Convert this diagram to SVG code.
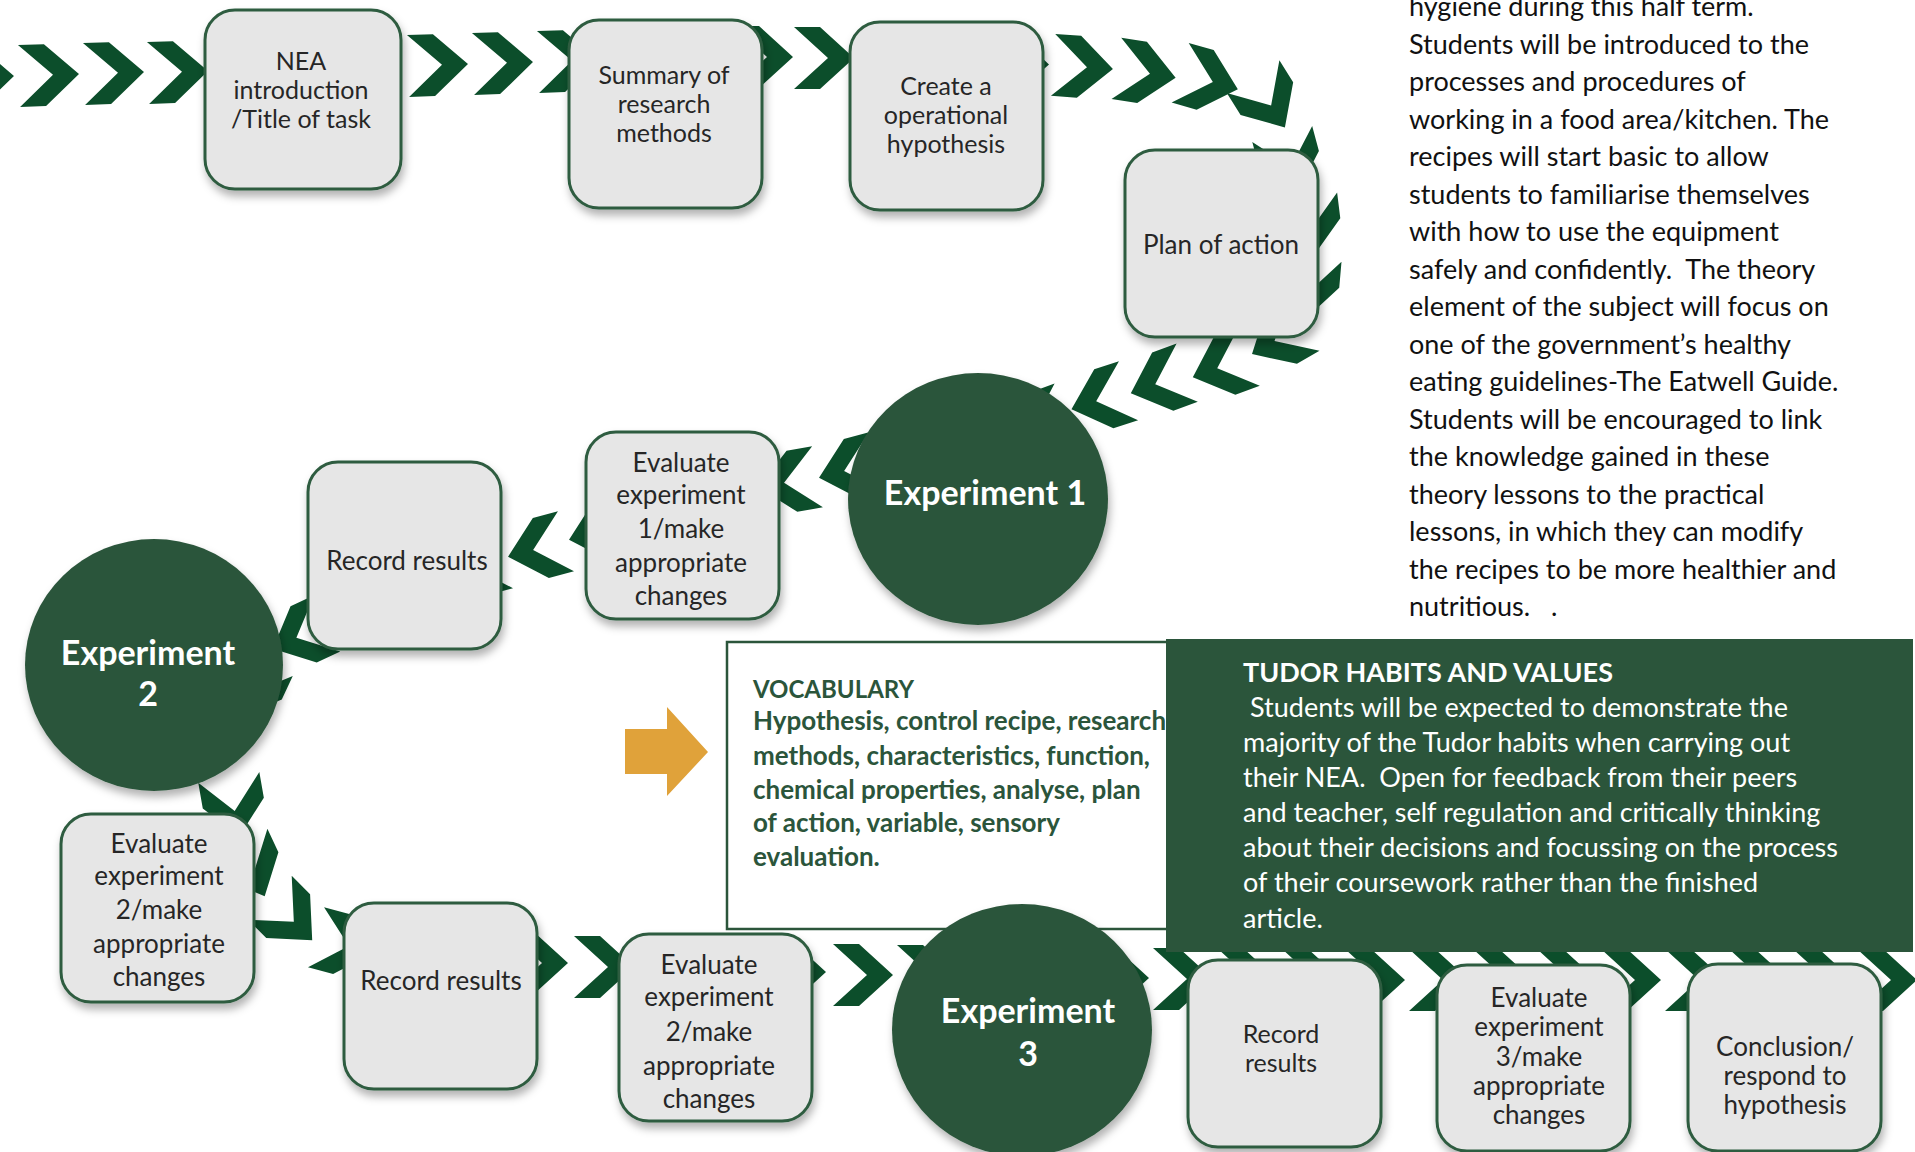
<svg xmlns="http://www.w3.org/2000/svg" width="1915" height="1152" viewBox="0 0 1915 1152">
<defs>
<style>
.box{fill:#e6e6e6;stroke:#2d5c3f;stroke-width:3;filter:url(#sh)}
.circ{fill:#2b553b;filter:url(#sh)}
.bt{font-family:Lato,"Liberation Sans",sans-serif;font-size:26px;fill:#262626;text-anchor:middle;font-weight:400}
.bs{font-size:25px}
.ct{font-family:Lato,"Liberation Sans",sans-serif;font-size:34px;font-weight:700;fill:#ffffff;text-anchor:middle}
.para{font-family:Lato,"Liberation Sans",sans-serif;font-size:27px;fill:#111111}
.voc{font-family:Lato,"Liberation Sans",sans-serif;font-size:26px;font-weight:700;fill:#2b553b}
.tud{font-family:Lato,"Liberation Sans",sans-serif;font-size:27px;fill:#ffffff}
</style>
<filter id="sh" x="-20%" y="-20%" width="140%" height="150%">
<feDropShadow dx="2" dy="6" stdDeviation="4" flood-color="#000000" flood-opacity="0.3"/>
</filter>
<polygon id="cv" points="-30,-31 -4,-31 30,0 -4,31 -30,31 4,0"/>
</defs>
<rect width="1915" height="1152" fill="#ffffff"/>

<g id="connectors" fill="#0c4e2b">
<use href="#cv" transform="translate(-16,77) rotate(-2)"/>
<use href="#cv" transform="translate(49,75) rotate(-2)"/>
<use href="#cv" transform="translate(114,73) rotate(-2)"/>
<use href="#cv" transform="translate(178,72) rotate(-2)"/>
<use href="#cv" transform="translate(243,70) rotate(-2)"/>
<use href="#cv" transform="translate(308,68) rotate(-2)"/>
<use href="#cv" transform="translate(369,66) rotate(-2)"/>
<use href="#cv" transform="translate(438,65) rotate(-2)"/>
<use href="#cv" transform="translate(503,63) rotate(-2)"/>
<use href="#cv" transform="translate(568,61) rotate(-2)"/>
<use href="#cv" transform="translate(633,59) rotate(-1)"/>
<use href="#cv" transform="translate(698,58) rotate(0)"/>
<use href="#cv" transform="translate(763,57) rotate(0)"/>
<use href="#cv" transform="translate(824,58) rotate(0)"/>
<use href="#cv" transform="translate(889,60) rotate(0)"/>
<use href="#cv" transform="translate(954,62) rotate(0)"/>
<use href="#cv" transform="translate(1019,64) rotate(1)"/>
<use href="#cv" transform="translate(1083,67) rotate(4)"/>
<use href="#cv" transform="translate(1146,73) rotate(9)"/>
<use href="#cv" transform="translate(1209,81) rotate(16)"/>
<use href="#cv" transform="translate(1269,102) rotate(58)"/>
<use href="#cv" transform="translate(1290,163) rotate(75)"/>
<use href="#cv" transform="translate(1310,226) rotate(83)"/>
<use href="#cv" transform="translate(1308,289) rotate(95)"/>
<use href="#cv" transform="translate(1278,339) rotate(150)"/>
<use href="#cv" transform="translate(1221,367) rotate(160)"/>
<use href="#cv" transform="translate(1159,383) rotate(160)"/>
<use href="#cv" transform="translate(1100,400) rotate(162)"/>
<use href="#cv" transform="translate(1037,423) rotate(160)"/>
<use href="#cv" transform="translate(976,445) rotate(160)"/>
<use href="#cv" transform="translate(912,460) rotate(165)"/>
<use href="#cv" transform="translate(848,470) rotate(165)"/>
<use href="#cv" transform="translate(788,482) rotate(170)"/>
<use href="#cv" transform="translate(722,500) rotate(168)"/>
<use href="#cv" transform="translate(660,516) rotate(166)"/>
<use href="#cv" transform="translate(598,532) rotate(165)"/>
<use href="#cv" transform="translate(537,549) rotate(165)"/>
<use href="#cv" transform="translate(476,566) rotate(165)"/>
<use href="#cv" transform="translate(415,583) rotate(163)"/>
<use href="#cv" transform="translate(354,600) rotate(160)"/>
<use href="#cv" transform="translate(300,636) rotate(155)"/>
<use href="#cv" transform="translate(252,690) rotate(115)"/>
<use href="#cv" transform="translate(225,735) rotate(88)"/>
<use href="#cv" transform="translate(234,807) rotate(80)"/>
<use href="#cv" transform="translate(252,869) rotate(65)"/>
<use href="#cv" transform="translate(291,919) rotate(45)"/>
<use href="#cv" transform="translate(345,945) rotate(15)"/>
<use href="#cv" transform="translate(409,955) rotate(5)"/>
<use href="#cv" transform="translate(474,961) rotate(2)"/>
<use href="#cv" transform="translate(538,963)"/>
<use href="#cv" transform="translate(604,967)"/>
<use href="#cv" transform="translate(668,969)"/>
<use href="#cv" transform="translate(732,970)"/>
<use href="#cv" transform="translate(796,972)"/>
<use href="#cv" transform="translate(863,975)"/>
<use href="#cv" transform="translate(927,976)"/>
<use href="#cv" transform="translate(991,977)"/>
<use href="#cv" transform="translate(1055,978)"/>
<use href="#cv" transform="translate(1119,978)"/>
<use href="#cv" transform="translate(1183,979)"/>
<use href="#cv" transform="translate(1247,979)"/>
<use href="#cv" transform="translate(1311,979)"/>
<use href="#cv" transform="translate(1375,980)"/>
<use href="#cv" transform="translate(1439,980)"/>
<use href="#cv" transform="translate(1503,980)"/>
<use href="#cv" transform="translate(1567,980)"/>
<use href="#cv" transform="translate(1631,980)"/>
<use href="#cv" transform="translate(1695,980)"/>
<use href="#cv" transform="translate(1759,980)"/>
<use href="#cv" transform="translate(1823,980)"/>
<use href="#cv" transform="translate(1887,980)"/>
</g>

<g id="n-nea">
<rect class="box" x="205" y="10" width="196" height="179" rx="30"/>
<text class="bt bs"><tspan x="301" y="70">NEA</tspan><tspan x="301" y="99">introduction</tspan><tspan x="301" y="128">/Title of task</tspan></text>
</g>
<g id="n-summary">
<rect class="box" x="569" y="20" width="193" height="188" rx="30"/>
<text class="bt bs"><tspan x="664" y="84">Summary of</tspan><tspan x="664" y="113">research</tspan><tspan x="664" y="142">methods</tspan></text>
</g>
<g id="n-create">
<rect class="box" x="850" y="22" width="193" height="188" rx="30"/>
<text class="bt bs"><tspan x="946" y="95">Create a</tspan><tspan x="946" y="124">operational</tspan><tspan x="946" y="153">hypothesis</tspan></text>
</g>
<g id="n-plan">
<rect class="box" x="1125" y="150" width="193" height="187" rx="30"/>
<text class="bt" x="1221" y="254">Plan of action</text>
</g>
<g id="n-exp1">
<ellipse class="circ" cx="978" cy="499" rx="130" ry="126"/>
<text class="ct" x="985" y="505">Experiment 1</text>
</g>
<g id="n-eval1">
<rect class="box" x="586" y="432" width="193" height="187" rx="30"/>
<text class="bt"><tspan x="681" y="472">Evaluate</tspan><tspan x="681" y="504">experiment</tspan><tspan x="681" y="538">1/make</tspan><tspan x="681" y="572">appropriate</tspan><tspan x="681" y="605">changes</tspan></text>
</g>
<g id="n-record1">
<rect class="box" x="308" y="462" width="193" height="187" rx="30"/>
<text class="bt" x="407" y="570">Record results</text>
</g>
<g id="n-exp2">
<ellipse class="circ" cx="154" cy="665" rx="129" ry="126"/>
<text class="ct"><tspan x="148" y="665">Experiment</tspan><tspan x="148" y="706">2</tspan></text>
</g>
<g id="n-eval2a">
<rect class="box" x="61" y="814" width="193" height="188" rx="30"/>
<text class="bt"><tspan x="159" y="853">Evaluate</tspan><tspan x="159" y="885">experiment</tspan><tspan x="159" y="919">2/make</tspan><tspan x="159" y="953">appropriate</tspan><tspan x="159" y="986">changes</tspan></text>
</g>
<g id="n-record2">
<rect class="box" x="344" y="903" width="193" height="186" rx="30"/>
<text class="bt" x="441" y="990">Record results</text>
</g>
<g id="n-eval2b">
<rect class="box" x="619" y="934" width="193" height="187" rx="30"/>
<text class="bt"><tspan x="709" y="974">Evaluate</tspan><tspan x="709" y="1006">experiment</tspan><tspan x="709" y="1041">2/make</tspan><tspan x="709" y="1075">appropriate</tspan><tspan x="709" y="1108">changes</tspan></text>
</g>

<g id="n-vocab">
<rect x="727" y="642" width="460" height="287" fill="#ffffff" stroke="#2b553b" stroke-width="2.5"/>
<text class="voc"><tspan x="753" y="698" font-size="24">VOCABULARY</tspan><tspan x="753" y="730">Hypothesis, control recipe, research</tspan><tspan x="753" y="765">methods, characteristics, function,</tspan><tspan x="753" y="799">chemical properties, analyse, plan</tspan><tspan x="753" y="832">of action, variable, sensory</tspan><tspan x="753" y="866">evaluation.</tspan></text>
</g>

<g id="n-exp3">
<ellipse class="circ" cx="1022" cy="1030" rx="130" ry="126"/>
<text class="ct"><tspan x="1028" y="1023">Experiment</tspan><tspan x="1028" y="1066">3</tspan></text>
</g>
<g id="n-record3">
<rect class="box" x="1188" y="960" width="193" height="187" rx="30"/>
<text class="bt bs"><tspan x="1281" y="1043">Record</tspan><tspan x="1281" y="1072">results</tspan></text>
</g>
<g id="n-eval3">
<rect class="box" x="1437" y="965" width="193" height="186" rx="30"/>
<text class="bt" font-size="24"><tspan x="1539" y="1007">Evaluate</tspan><tspan x="1539" y="1036">experiment</tspan><tspan x="1539" y="1066">3/make</tspan><tspan x="1539" y="1095">appropriate</tspan><tspan x="1539" y="1124">changes</tspan></text>
</g>
<g id="n-conclusion">
<rect class="box" x="1688" y="964" width="193" height="187" rx="30"/>
<text class="bt" font-size="24"><tspan x="1785" y="1056">Conclusion/</tspan><tspan x="1785" y="1085">respond to</tspan><tspan x="1785" y="1114">hypothesis</tspan></text>
</g>

<g id="n-tudor">
<rect x="1166" y="639" width="747" height="313" fill="#2b553b"/>
<text class="tud" x="1243" y="682" font-size="25" font-weight="700">TUDOR HABITS AND VALUES</text>
<text class="tud"><tspan x="1250" y="717">Students will be expected to demonstrate the</tspan><tspan x="1243" y="752">majority of the Tudor habits when carrying out</tspan><tspan x="1243" y="787">their NEA.&#160; Open for feedback from their peers</tspan><tspan x="1243" y="822">and teacher, self regulation and critically thinking</tspan><tspan x="1243" y="857">about their decisions and focussing on the process</tspan><tspan x="1243" y="892">of their coursework rather than the finished</tspan><tspan x="1243" y="928">article.</tspan></text>
</g>

<g id="n-arrow">
<polygon points="625,729 667,729 667,707 708,752 667,796 667,774 625,774" fill="#e0a23a"/>
</g>

<g id="n-intro">
<text class="para">
<tspan x="1409" y="16">hygiene during this half term.</tspan>
<tspan x="1409" y="54">Students will be introduced to the</tspan>
<tspan x="1409" y="91">processes and procedures of</tspan>
<tspan x="1409" y="129">working in a food area/kitchen. The</tspan>
<tspan x="1409" y="166">recipes will start basic to allow</tspan>
<tspan x="1409" y="204">students to familiarise themselves</tspan>
<tspan x="1409" y="241">with how to use the equipment</tspan>
<tspan x="1409" y="279">safely and confidently.&#160; The theory</tspan>
<tspan x="1409" y="316">element of the subject will focus on</tspan>
<tspan x="1409" y="354">one of the government’s healthy</tspan>
<tspan x="1409" y="391">eating guidelines-The Eatwell Guide.</tspan>
<tspan x="1409" y="429">Students will be encouraged to link</tspan>
<tspan x="1409" y="466">the knowledge gained in these</tspan>
<tspan x="1409" y="504">theory lessons to the practical</tspan>
<tspan x="1409" y="541">lessons, in which they can modify</tspan>
<tspan x="1409" y="579">the recipes to be more healthier and</tspan>
<tspan x="1409" y="616">nutritious.&#160;&#160; .</tspan>
</text>
</g>
</svg>
